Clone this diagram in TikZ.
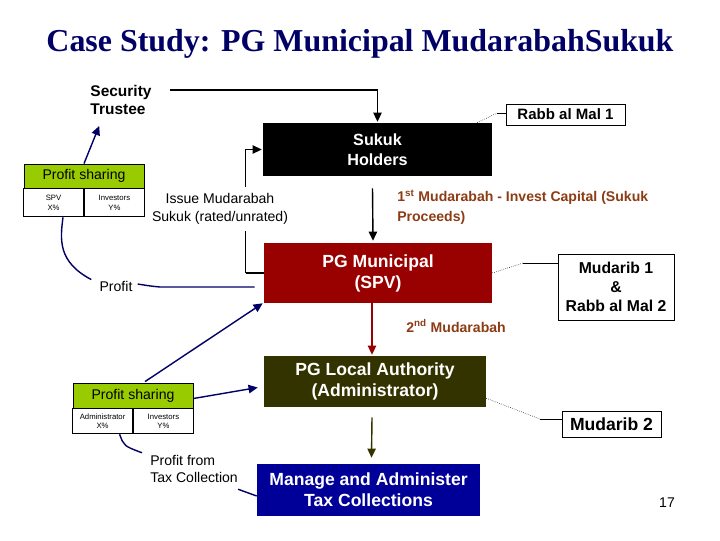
\documentclass[tikz,border=0pt]{standalone}
\usepackage{fontspec}
\setmainfont{Liberation Sans}
\newfontfamily\titlefont{Liberation Serif}
\usetikzlibrary{arrows.meta,positioning,calc}
\definecolor{navyblue}{RGB}{0,0,102}
\definecolor{spvred}{RGB}{153,0,0}
\definecolor{oliv}{RGB}{51,51,0}
\definecolor{taxblue}{RGB}{0,0,153}
\definecolor{brownlbl}{RGB}{140,60,20}
\definecolor{psgreen}{RGB}{153,204,0}

\begin{document}
\begin{tikzpicture}[x=0.025cm,y=-0.025cm,
    box/.style={inner sep=0pt, align=center, text=white, font=\bfseries\fontsize{12.5}{15}\selectfont},
    side/.style={draw, line width=0.6pt, inner sep=0pt, align=center, font=\bfseries\fontsize{11.2}{13.5}\selectfont},
    hdr/.style={draw, line width=0.6pt, fill=psgreen, inner sep=0pt, minimum width=3cm, font=\fontsize{10}{12}\selectfont},
    cell/.style={draw, line width=0.6pt, fill=white, inner sep=0pt, minimum width=1.5cm, align=center, font=\fontsize{5.5}{6.5}\selectfont},
    lbl/.style={inner sep=0pt, font=\fontsize{10}{12.5}\selectfont},
    mud/.style={inner sep=0pt, align=left, text=brownlbl, font=\bfseries\fontsize{10}{14}\selectfont},
    arr/.style={line width=1pt, -{Triangle[length=6.5pt,width=6pt]}},
    prf/.style={line width=1pt, navyblue},
    lead/.style={line width=0.4pt, densely dotted},
    leads/.style={line width=0.4pt}
  ]
    \useasboundingbox (0,0) rectangle (720,540);
    \node[text=navyblue, font=\titlefont\bfseries\fontsize{22.7}{26}\selectfont] (title) at (360,44)
      {Case Study: PG Municipal MudarabahSukuk};

    % main chain
    \node[box, fill=black, minimum width=5.725cm, minimum height=1.325cm,
      font=\bfseries\fontsize{11.5}{14.5}\selectfont] (hold) at (377.5,149.5) {Sukuk\\Holders};
    \node[box, fill=spvred, minimum width=5.7cm, minimum height=1.5cm] (spv) at (378,273) {PG Municipal\\(SPV)};
    \node[box, fill=oliv, minimum width=5.55cm, minimum height=1.275cm] (loc) at (375,381.5) {PG Local Authority\\(Administrator)};
    \node[box, fill=taxblue, minimum width=5.575cm, minimum height=1.3cm] (tax) at (368.5,490) {Manage and Administer\\Tax Collections};

    \draw[arr] ($(hold.south)+(-5,12)$) -- ($(spv.north)+(-5,-2)$);
    \draw[arr, spvred] ($(spv.south)+(-6,0)$) -- ($(loc.north)+(-3,-1)$);
    \draw[arr, oliv] ($(loc.south)+(-3,10)$) -- ($(tax.north)+(3,-6)$);

    \node[mud] (m1) at (397,207) [anchor=west] {1\textsuperscript{st} Mudarabah - Invest Capital (Sukuk\\Proceeds)};
    \node[mud] (m2) at (406,326) [anchor=west] {2\textsuperscript{nd} Mudarabah};

    % trustee and issue
    \node[inner sep=0pt, align=left, font=\bfseries\fontsize{11}{12.8}\selectfont] (st) at (121,100) {Security\\Trustee};
    \draw[arr] ($(st.east)+(18,-10)$) -| ($(hold.north)+(0,-1)$);
    \draw[line width=1pt] (spv.west) -- ++(-18,0) coordinate (c1);
    \draw[arr] (c1) |- ($(hold.west)+(-1,0)$);
    \node[lbl, align=center, fill=white, inner ysep=5pt, inner xsep=1pt] (iss) at (220,209) {Issue Mudarabah\\Sukuk (rated/unrated)};

    % side roles
    \node[side, minimum width=2.975cm, minimum height=0.525cm, font=\bfseries\fontsize{10.7}{13}\selectfont] (rab1) at (565.5,114.5) {Rabb al Mal 1};
    \node[side, minimum width=2.9cm, minimum height=1.65cm] (mud1) at (616,287) {Mudarib 1\\\&\\Rabb al Mal 2};
    \node[side, minimum width=2.475cm, minimum height=0.65cm, font=\bfseries\fontsize{12.5}{15}\selectfont] (mud2) at (611.5,424) {Mudarib 2};
    \coordinate (k1) at (497,113);
    \coordinate (k2) at (523,263);
    \coordinate (k3) at (540,419);
    \draw[lead] ($(hold.north east)+(-15,0)$) -- (k1);
    \draw[leads] (k1) -- (k1 -| rab1.west);
    \draw[lead] (spv.east) -- (k2);
    \draw[leads] (k2) -- (k2 -| mud1.west);
    \draw[lead] ($(loc.south east)+(0,-9)$) -- (k3);
    \draw[leads] (k3) -- (k3 -| mud2.west);

    % profit sharing, SPV level
    \node[hdr, minimum height=0.6cm] (ps1) at (84,176) {Profit sharing};
    \node[cell, minimum height=0.7cm, anchor=north east] (ps1a) at (ps1.south) {SPV\\X\%};
    \node[cell, minimum height=0.7cm, anchor=north west] (ps1b) at (ps1.south) {Investors\\Y\%};
    \draw[arr, navyblue] (ps1.north) -- ($(st.south west)+(9,11)$);
    \node[lbl] (pr) at (116,286) {Profit};
    \draw[prf] ($(spv.west)+(-9,14)$) -- (160,287) .. controls (150,286) .. ($(pr.east)+(5,-2)$);
    \draw[prf] ($(pr.north west)+(-8,-1)$) .. controls (58,262) and (60,240) .. ($(ps1a.south east)+(-21,0)$);

    % profit sharing, administrator level
    \node[hdr, minimum height=0.625cm] (ps2) at (133,395.5) {Profit sharing};
    \node[cell, minimum height=0.625cm, anchor=north east] (ps2a) at (ps2.south) {Administrator\\X\%};
    \node[cell, minimum height=0.625cm, anchor=north west] (ps2b) at (ps2.south) {Investors\\Y\%};
    \draw[arr, navyblue] ($(ps2.north)+(12,-1)$) -- ($(spv.south west)+(-1,0)$);
    \draw[arr, navyblue] ($(ps2.east)+(0,3)$) -- ($(loc.west)+(-6,6)$);
    \node[lbl, align=left, anchor=west] (tl) at (150,469) {Profit from\\Tax Collection};
    \draw[prf] ($(tl.north west)+(-8,-2)$) .. controls (124,446) .. ($(ps2a.south)+(17,0)$);
    \draw[prf] ($(tl.south east)+(0,6)$) -- ($(tax.west)+(0,6)$);

    \node[lbl] (pg) at (667,503) {17};
  \end{tikzpicture}
\end{document}
